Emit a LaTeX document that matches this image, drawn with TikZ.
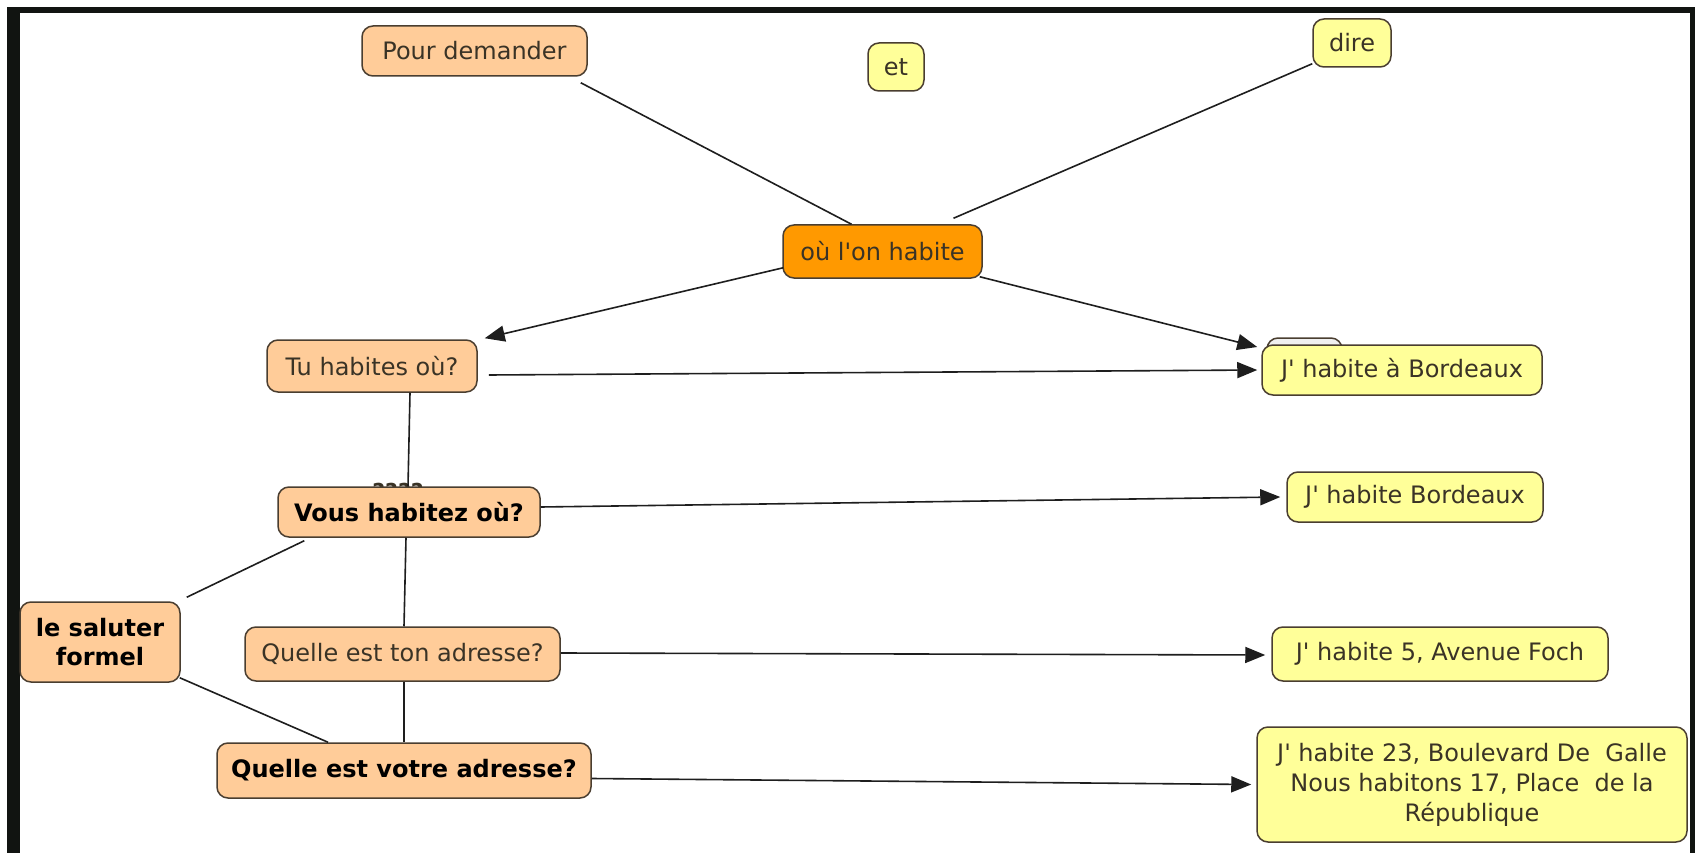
\documentclass[tikz,border=0pt]{standalone}
\usepackage{fontspec}
\setmainfont{DejaVu Sans}
\usetikzlibrary{arrows.meta,calc}
\definecolor{peach}{HTML}{FFCC99}
\definecolor{orangec}{HTML}{FF9900}
\definecolor{yel}{HTML}{FFFF99}
\definecolor{bordc}{HTML}{4A3E30}
\definecolor{txt}{HTML}{3A3326}
\definecolor{linec}{HTML}{1E1E1E}
\definecolor{framec}{HTML}{111411}
\newcommand{\apo}{\textquotesingle}
\begin{document}
\begin{tikzpicture}[x=1pt,y=-1pt,
  box/.style={draw=bordc, line width=1.5pt, rounded corners=11pt, inner sep=0pt, align=center,
              font=\fontsize{24}{30}\selectfont, text=txt},
  pch/.style={box, fill=peach},
  ylw/.style={box, fill=yel},
  ctr/.style={box, fill=orangec},
  bld/.style={font=\fontsize{24}{29}\selectfont\bfseries, text=black},
  conn/.style={draw=linec, line width=1.6pt},
  arr/.style={conn, -{Triangle[length=20pt,width=16pt]}}
]
\useasboundingbox (0,0) rectangle (1695,853);
\fill[white] (0,0) rectangle (1695,853);
\fill[framec] (7,7) rectangle (1695,853);
\fill[white] (20,13) rectangle (1690,853);

% hidden label behind "Vous habitez ou?"
\node[font=\fontsize{22}{26}\selectfont\bfseries, text=txt, anchor=base, inner sep=0pt] (hid) at (398,499) {????};

% nodes
\node[pch, minimum width=225, minimum height=50] (pour) at (474.5,51) {Pour demander};
\node[ylw, minimum width=56, minimum height=48] (et) at (896,67) {et};
\node[ylw, minimum width=78, minimum height=48] (dire) at (1352,43) {dire};
\node[ctr, minimum width=199, minimum height=53] (hab) at (882.5,251.5) {où l\apo on habite};
\node[pch, minimum width=210, minimum height=52] (tu) at (372,366) {Tu habites où?};
\node[box, fill=gray!12, minimum width=75, minimum height=50] (ghost) at (1304.5,363) {};
\node[ylw, minimum width=280, minimum height=50] (jab) at (1402,370) {J\apo\ habite à Bordeaux};
\node[pch, bld, minimum width=262, minimum height=50] (vous) at (409,512) {Vous habitez où?};
\node[ylw, minimum width=256, minimum height=50] (jb) at (1415,497) {J\apo\ habite Bordeaux};
\node[pch, bld, minimum width=160, minimum height=80] (sal) at (100,642) {le saluter\\formel};
\node[pch, minimum width=315, minimum height=54] (ton) at (402.5,654) {Quelle est ton adresse?};
\node[ylw, minimum width=336, minimum height=54] (foch) at (1440,654) {J\apo\ habite 5, Avenue Foch};
\node[pch, bld, minimum width=374, minimum height=55] (votre) at (404,770.5) {Quelle est votre adresse?};
\node[ylw, minimum width=430, minimum height=115] (big) at (1472,784.5)
  {J\apo\ habite 23, Boulevard De\ \ Galle\\Nous habitons 17, Place\ \ de la\\République};

% connectors
\draw[conn] ($(pour.south east)+(-7,6)$) -- ($(hab.north)+(-31,0)$);
\draw[conn] ($(dire.south west)+(0,-4)$) -- ($(hab.north)+(71,-6)$);
\draw[arr] ($(hab.south west)+(1,-11)$) -- ($(tu.north east)+(7,-1)$);
\draw[arr] ($(hab.south east)+(-3,-2)$) -- ($(jab.west)+(-4,-23)$);
\draw[arr] ($(tu.east)+(11,9)$) -- ($(jab.west)+(-4,0)$);
\draw[conn] ($(tu.south)+(38,0)$) -- ($(vous.north)+(-1,0)$);
\draw[arr] ($(vous.east)+(0,-5)$) -- ($(jb.west)+(-6,0)$);
\draw[conn] ($(vous.south west)+(27,3)$) -- ($(sal.north east)+(6,-4)$);
\draw[conn] ($(sal.south east)+(-1,-5)$) -- ($(votre.north)+(-76,0)$);
\draw[conn] ($(vous.south)+(-3,0)$) -- ($(ton.north)+(1.5,0)$);
\draw[conn] ($(ton.south)+(1.5,0)$) -- ($(votre.north)+(0,0)$);
\draw[arr] ($(ton.east)+(0,-1)$) -- ($(foch.west)+(-6,1)$);
\draw[arr] ($(votre.east)+(0,8)$) -- ($(big.west)+(-5,0)$);
\end{tikzpicture}
\end{document}
